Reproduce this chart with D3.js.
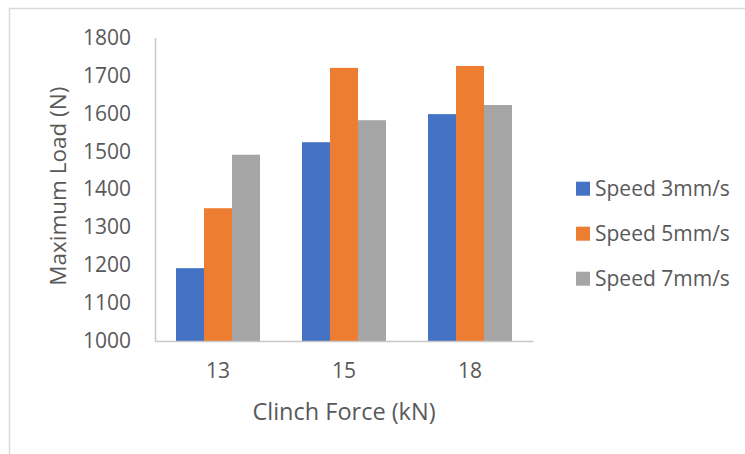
<!DOCTYPE html>
<html><head><meta charset="utf-8">
<script src="https://cdn.jsdelivr.net/npm/d3@7"></script>
<style>body{margin:0;background:#fff}svg{display:block}text{font-family:"Open Sans",sans-serif;fill:#595959}</style>
</head><body><svg id="c" width="745" height="454"></svg>
<script>
const categories = ["13", "15", "18"];
const seriesNames = ["Speed 3mm/s", "Speed 5mm/s", "Speed 7mm/s"];
const speed3 = [1192, 1524, 1598];
const speed5 = [1350, 1720, 1725];
const speed7 = [1491, 1582, 1622];
const yTicks = [1000, 1100, 1200, 1300, 1400, 1500, 1600, 1700, 1800];
const colors = ["#4472C4", "#ED7D31", "#A5A5A5"];
const seriesValues = [speed3, speed5, speed7];

const svg = d3.select("#c");
// frame
svg.append("rect").attr("x", 9.5).attr("y", 8.5).attr("width", 760).attr("height", 460)
  .attr("fill", "none").attr("stroke", "#d9d9d9").attr("stroke-width", 1.5);

const L = 155, R = 533, T = 37.5, B = 341;
const x0 = d3.scaleBand().domain(categories).range([L, R]).padding(0);
const x1 = d3.scaleBand().domain(seriesNames).range([0, x0.bandwidth()]).paddingInner(0).paddingOuter(0.75);
const y = d3.scaleLinear().domain([1000, 1800]).range([B, T]);

// bars
const g = svg.append("g");
categories.forEach((c, ci) => {
  seriesNames.forEach((s, si) => {
    const v = seriesValues[si][ci];
    g.append("rect").attr("x", x0(c) + x1(s)).attr("y", y(v))
      .attr("width", x1.bandwidth()).attr("height", y(1000) - y(v))
      .attr("fill", colors[si]);
  });
});

// y axis
const yAxis = svg.append("g").attr("transform", `translate(${L},0)`)
  .call(d3.axisLeft(y).tickValues(yTicks).tickFormat(d3.format("d")).tickSize(0).tickPadding(24));
yAxis.select(".domain").attr("stroke", "#c8c8c8").attr("stroke-width", 1.5);
yAxis.selectAll("text").style("font-size", "21px").attr("fill", "#595959").attr("font-family", "Open Sans");

// x axis
const xAxis = svg.append("g").attr("transform", `translate(0,${B})`)
  .call(d3.axisBottom(x0).tickSize(0).tickPadding(22));
xAxis.select(".domain").attr("stroke", "#c8c8c8").attr("stroke-width", 1.5);
xAxis.selectAll("text").style("font-size", "21px").attr("fill", "#595959").attr("font-family", "Open Sans");

// titles
svg.append("text").attr("x", (L + R) / 2).attr("y", 420).attr("text-anchor", "middle")
  .style("font-size", "23.5px").text("Clinch Force (kN)");
svg.append("text").attr("transform", `translate(66,${(T + B) / 2 - 3}) rotate(-90)`)
  .attr("text-anchor", "middle").style("font-size", "22.5px").text("Maximum Load (N)");

// legend
const leg = svg.append("g");
seriesNames.forEach((s, i) => {
  const cy = 188.7 + i * 45;
  leg.append("rect").attr("x", 576).attr("y", cy - 7).attr("width", 14).attr("height", 14).attr("fill", colors[i]);
  leg.append("text").attr("x", 595).attr("y", cy).attr("dy", "0.35em").style("font-size", "21px").text(s);
});
</script></body></html>
